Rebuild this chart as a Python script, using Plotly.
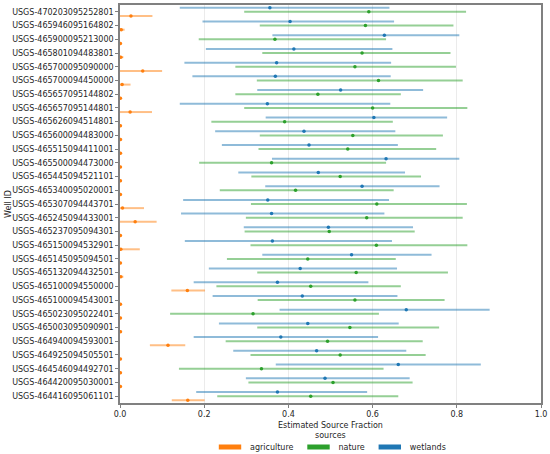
import numpy as np
import plotly.graph_objects as go

wells = [
    "USGS-470203095252801", "USGS-465946095164802", "USGS-465900095213000",
    "USGS-465801094483801", "USGS-465700095090000", "USGS-465700094450000",
    "USGS-465657095144802", "USGS-465657095144801", "USGS-465626094514801",
    "USGS-465600094483000", "USGS-465515094411001", "USGS-465500094473000",
    "USGS-465445094521101", "USGS-465340095020001", "USGS-465307094443701",
    "USGS-465245094433001", "USGS-465237095094301", "USGS-465150094532901",
    "USGS-465145095094501", "USGS-465132094432501", "USGS-465100094550000",
    "USGS-465100094543001", "USGS-465023095022401", "USGS-465003095090901",
    "USGS-464940094593001", "USGS-464925094505501", "USGS-464546094492701",
    "USGS-464420095030001", "USGS-464416095061101",
]

wet_mid = [0.356, 0.404, 0.628, 0.413, 0.372, 0.369, 0.524, 0.350, 0.603, 0.437,
           0.449, 0.632, 0.471, 0.575, 0.351, 0.360, 0.495, 0.362, 0.550, 0.428,
           0.374, 0.433, 0.680, 0.446, 0.382, 0.467, 0.661, 0.487, 0.374]
wet_lo = [0.142, 0.196, 0.362, 0.204, 0.153, 0.172, 0.326, 0.142, 0.346, 0.226,
          0.242, 0.361, 0.281, 0.345, 0.150, 0.145, 0.294, 0.154, 0.338, 0.211,
          0.175, 0.220, 0.379, 0.235, 0.175, 0.269, 0.370, 0.299, 0.181]
wet_hi = [0.640, 0.651, 0.806, 0.647, 0.644, 0.643, 0.720, 0.642, 0.777, 0.654,
          0.660, 0.806, 0.677, 0.759, 0.639, 0.628, 0.696, 0.646, 0.740, 0.658,
          0.590, 0.659, 0.878, 0.662, 0.613, 0.680, 0.857, 0.688, 0.587]

nat_mid = [0.591, 0.583, 0.368, 0.575, 0.558, 0.614, 0.470, 0.600, 0.391, 0.553,
           0.541, 0.360, 0.523, 0.417, 0.610, 0.586, 0.497, 0.609, 0.446, 0.561,
           0.453, 0.558, 0.316, 0.546, 0.493, 0.523, 0.336, 0.506, 0.453]
nat_lo = [0.295, 0.332, 0.187, 0.338, 0.274, 0.325, 0.274, 0.295, 0.217, 0.332,
          0.329, 0.188, 0.312, 0.237, 0.311, 0.299, 0.296, 0.310, 0.254, 0.326,
          0.229, 0.327, 0.119, 0.326, 0.251, 0.310, 0.140, 0.305, 0.231]
nat_hi = [0.822, 0.792, 0.632, 0.785, 0.798, 0.814, 0.667, 0.825, 0.648, 0.767,
          0.751, 0.632, 0.715, 0.650, 0.824, 0.814, 0.700, 0.825, 0.655, 0.779,
          0.667, 0.771, 0.615, 0.758, 0.719, 0.726, 0.626, 0.695, 0.661]

agr_mid = [0.026, 0.003, 0.001, 0.002, 0.054, 0.005, 0.001, 0.024, 0.001, 0.001,
           0.001, 0.001, 0.001, 0.001, 0.006, 0.036, 0.001, 0.002, 0.001, 0.002,
           0.160, 0.001, 0.001, 0.001, 0.114, 0.001, 0.001, 0.001, 0.161]
agr_lo = [0.0, 0.0, 0.0, 0.0, 0.0, 0.0, 0.0, 0.0, 0.0, 0.0,
          0.0, 0.0, 0.0, 0.0, 0.0, 0.0, 0.0, 0.0, 0.0, 0.0,
          0.122, 0.0, 0.0, 0.0, 0.071, 0.0, 0.0, 0.0, 0.123]
agr_hi = [0.077, 0.011, 0.003, 0.008, 0.100, 0.025, 0.003, 0.076, 0.003, 0.005,
          0.005, 0.003, 0.003, 0.003, 0.057, 0.087, 0.003, 0.047, 0.003, 0.008,
          0.202, 0.004, 0.003, 0.005, 0.155, 0.003, 0.003, 0.003, 0.201]

x_ticks = [0.0, 0.2, 0.4, 0.6, 0.8, 1.0]

series = [
    ("agriculture", agr_mid, agr_lo, agr_hi, "#ff7f0e", "rgba(255,127,14,0.5)", 0.3),
    ("nature", nat_mid, nat_lo, nat_hi, "#2ca02c", "rgba(44,160,44,0.5)", 0.0),
    ("wetlands", wet_mid, wet_lo, wet_hi, "#1f77b4", "rgba(31,119,180,0.5)", -0.3),
]

FONT = "DejaVu Sans"
fig = go.Figure()
idx = np.arange(len(wells))
for name, mid, lo, hi, col, lcol, off in series:
    mid = np.array(mid); lo = np.array(lo); hi = np.array(hi)
    fig.add_trace(go.Scatter(
        x=mid, y=idx + off, mode="markers", name=name, showlegend=False,
        marker=dict(color=col, size=3.5),
        error_x=dict(type="data", symmetric=False, array=hi - mid,
                     arrayminus=mid - lo, color=lcol, thickness=2, width=0),
    ))
# legend patches
for name, mid, lo, hi, col, lcol, off in series:
    fig.add_trace(go.Scatter(
        x=[None], y=[None], mode="markers", name=name, showlegend=True,
        marker=dict(symbol="line-ew", size=16, color=col,
                    line=dict(color=col, width=6)),
    ))

fig.update_layout(
    width=550, height=454,
    margin=dict(l=120, r=9, t=5, b=51, autoexpand=False),
    paper_bgcolor="white", plot_bgcolor="white",
    font=dict(family=FONT, size=8, color="#262626"),
    showlegend=True,
    legend=dict(orientation="h", x=0.5, xanchor="center", y=-0.074, yanchor="top",
                font=dict(size=8), itemwidth=30, tracegroupgap=0,
                bgcolor="rgba(0,0,0,0)", itemsizing="trace"),
    xaxis=dict(range=[0, 1], tickvals=x_ticks, tickformat=".1f", automargin=False,
               showgrid=True, gridcolor="#ebebeb", gridwidth=1,
               showline=True, linecolor="#808080", linewidth=1.5, mirror=True,
               ticks="outside", ticklen=3, tickcolor="#808080", zeroline=False,
               title=dict(text="Estimated Source Fraction", standoff=4,
                          font=dict(size=8))),
    yaxis=dict(range=[len(wells) - 0.5, -0.5], tickvals=list(idx), ticktext=wells,
               automargin=False,
               showgrid=False, showline=True, linecolor="#808080", linewidth=1.5,
               mirror=True, ticks="outside", ticklen=3, tickcolor="#808080",
               zeroline=False),
    annotations=[
        dict(text="sources", x=0.5, y=-0.081, xref="paper", yref="paper",
             xanchor="center", yanchor="middle", showarrow=False,
             font=dict(size=8)),
        dict(text="Well ID", x=-0.266, y=0.5, xref="paper", yref="paper",
             xanchor="center", yanchor="middle", showarrow=False, textangle=-90,
             font=dict(size=8)),
    ],
)

fig.write_html("out.html", config={"displayModeBar": False},
               post_script="document.body.style.margin='0';document.body.style.padding='0';")
